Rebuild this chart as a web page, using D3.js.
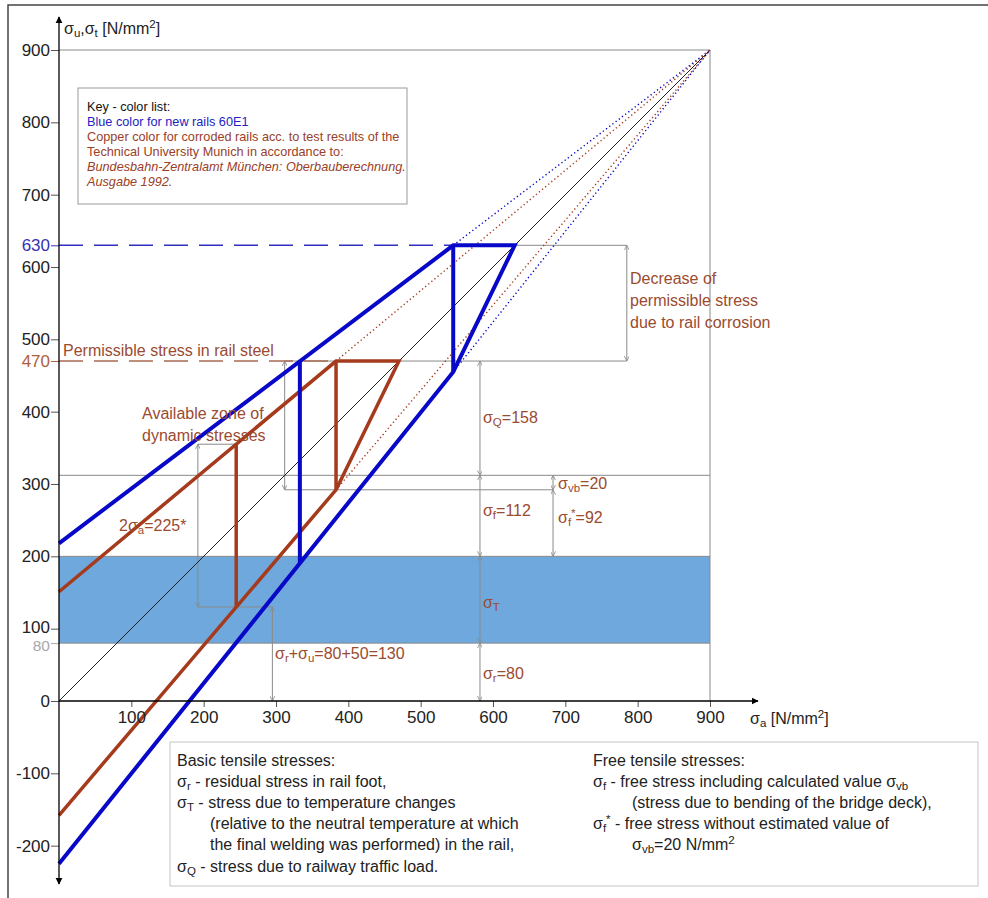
<!DOCTYPE html>
<html>
<head>
<meta charset="utf-8">
<script src="https://cdn.jsdelivr.net/npm/d3@7"></script>
<style>
  body { margin: 0; background: #fff; }
  svg { display: block; font-family: "Liberation Sans", Arial, sans-serif; }
</style>
</head>
<body>
<svg id="chart" width="988" height="898"></svg>
<script>
// ---- values (N/mm²) ----
const xTicks = [100, 200, 300, 400, 500, 600, 700, 800, 900];
const yTicks = [-200, -100, 0, 100, 200, 300, 400, 500, 600, 700, 800, 900];
const apex = [900, 900];

// new rails 60E1 (blue): upper limit line, top cut, lower limit line
const newRailOutline = [[0, 218], [545, 630], [630, 630], [545, 455], [0, -225]];
const newRailVerticals = [[[545, 630], [545, 455]], [[333, 470], [333, 191]]];
const newRailPermissible = 630;

// corroded rails (copper)
const corrodedOutline = [[0, 151], [383, 470], [470, 470], [383, 292], [0, -158]];
const corrodedVerticals = [[[383, 470], [383, 292]], [[245, 355], [245, 130]]];
const corrodedPermissible = 470;

// basic and free tensile stresses
const sigmaR = 80;        // residual stress
const sigmaT = 120;       // temperature changes (80 → 200)
const sigmaF = 112;       // free stress
const sigmaVb = 20;       // bridge deck bending
const sigmaFStar = 92;    // free stress without σvb
const sigmaQ = 158;       // traffic load
const twoSigmaA = 225;    // available range of the small cycle
const sigmaU = 50;

const svg = d3.select("#chart");
const x = d3.scaleLinear().domain([0, 900]).range([59, 710]);
const y = d3.scaleLinear().domain([0, 900]).range([701, 50]);

const brown = "#a53a1c", blue = "#0808c8", txtBrown = "#9a4b30", gray = "#8a8a8a";

// markers
const defs = svg.append("defs");
defs.append("marker").attr("id", "axArrow").attr("viewBox", "0 0 10 10")
  .attr("refX", 9).attr("refY", 5).attr("markerWidth", 7).attr("markerHeight", 9)
  .attr("markerUnits", "userSpaceOnUse").attr("orient", "auto-start-reverse")
  .append("path").attr("d", "M0,0 L10,5 L0,10 Z").attr("fill", "#000");
defs.append("marker").attr("id", "dim").attr("viewBox", "0 0 6 6")
  .attr("refX", 6).attr("refY", 3).attr("markerWidth", 5).attr("markerHeight", 5)
  .attr("markerUnits", "userSpaceOnUse").attr("orient", "auto-start-reverse")
  .append("path").attr("d", "M0,0 L6,3 L0,6").attr("fill", "none").attr("stroke", gray).attr("stroke-width", 1);

// rich text: _{sub} and ^{sup}
function rich(g, px, py, str, opts = {}) {
  const fs = opts.size || 16;
  const t = g.append("text").attr("x", px).attr("y", py)
    .attr("font-size", fs).attr("fill", opts.fill || "#222");
  if (opts.italic) t.attr("font-style", "italic");
  if (opts.anchor) t.attr("text-anchor", opts.anchor);
  const parts = str.split(/(_\{[^}]*\}|\^\{[^}]*\})/).filter(s => s.length);
  let shift = 0;
  parts.forEach(p => {
    let text = p, small = false, target = 0;
    if (p.startsWith("_{")) { text = p.slice(2, -1); target = fs * 0.2; small = true; }
    else if (p.startsWith("^{")) { text = p.slice(2, -1); target = -fs * 0.38; small = true; }
    const dy = target - shift; shift = target;
    const ts = t.append("tspan").text(text);
    if (dy) ts.attr("dy", dy);
    if (small) ts.attr("font-size", fs * 0.72);
  });
  return t;
}

const line = d3.line().x(d => x(d[0])).y(d => y(d[1]));

// figure frame (left and top)
svg.append("path").attr("d", "M8,898 L8,5 L988,5").attr("fill", "none")
  .attr("stroke", "#444").attr("stroke-width", 1.5);

// temperature band
svg.append("rect").attr("x", x(0)).attr("y", y(sigmaR + sigmaT))
  .attr("width", x(900) - x(0)).attr("height", y(sigmaR) - y(sigmaR + sigmaT))
  .attr("fill", "#6fa8dc");

// thin gray construction and dimension lines
const gGray = svg.append("g").attr("stroke", gray).attr("stroke-width", 1).attr("fill", "none");
const fTop = sigmaR + sigmaT + sigmaF;         // 312
const fStarTop = sigmaR + sigmaT + sigmaFStar; // 292
const plain = [
  [[0, 900], [900, 900]], [[900, 900], [900, 0]],
  [[0, sigmaR], [900, sigmaR]], [[0, sigmaR + sigmaT], [900, sigmaR + sigmaT]],
  [[0, fTop], [900, fTop]],
  [[630, newRailPermissible], [785, newRailPermissible]],
  [[312, corrodedPermissible], [785, corrodedPermissible]],
  [[312, fStarTop], [683, fStarTop]],
  [[192, 355], [245, 355]],
  [[192, sigmaR + sigmaU], [295, sigmaR + sigmaU]]
];
plain.forEach(s => gGray.append("path").attr("d", line(s)));
const dims = [
  [[785, newRailPermissible], [785, corrodedPermissible]],
  [[582, corrodedPermissible], [582, fTop]],
  [[582, fTop], [582, sigmaR + sigmaT]],
  [[582, sigmaR + sigmaT], [582, sigmaR]],
  [[582, sigmaR], [582, 0]],
  [[683, fTop], [683, fStarTop]],
  [[683, fStarTop], [683, sigmaR + sigmaT]],
  [[312, corrodedPermissible], [312, fStarTop]],
  [[192, 355], [192, sigmaR + sigmaU]],
  [[295, sigmaR + sigmaU], [295, 0]]
];
dims.forEach(s => gGray.append("path").attr("d", line(s))
  .attr("marker-start", "url(#dim)").attr("marker-end", "url(#dim)"));

// diagonal σu = σa
svg.append("path").attr("d", line([[0, 0], apex])).attr("stroke", "#222")
  .attr("stroke-width", 1).attr("fill", "none");

// dotted extensions to the apex
[[newRailOutline[1], blue], [newRailOutline[3], blue],
 [corrodedOutline[1], brown], [corrodedOutline[3], brown]].forEach(([p, c]) => {
  svg.append("path").attr("d", line([p, apex])).attr("stroke", c)
    .attr("stroke-width", 1.4).attr("stroke-dasharray", "1.3,2.7").attr("fill", "none");
});

// permissible stress levels
svg.append("path").attr("d", line([[0, newRailPermissible], [545, newRailPermissible]]))
  .attr("stroke", "#3030c0").attr("stroke-width", 1.5).attr("stroke-dasharray", "24,11").attr("fill", "none");
svg.append("path").attr("d", line([[0, corrodedPermissible], [383, corrodedPermissible]]))
  .attr("stroke", "#a86a50").attr("stroke-width", 1.5).attr("stroke-dasharray", "24,11").attr("fill", "none");

// thick diagram outlines
const gThick = svg.append("g").attr("fill", "none").attr("stroke-linejoin", "miter");
gThick.append("path").attr("d", line(corrodedOutline)).attr("stroke", brown).attr("stroke-width", 3.5);
corrodedVerticals.forEach(v => gThick.append("path").attr("d", line(v)).attr("stroke", brown).attr("stroke-width", 3.5));
gThick.append("path").attr("d", line(newRailOutline)).attr("stroke", blue).attr("stroke-width", 4);
newRailVerticals.forEach(v => gThick.append("path").attr("d", line(v)).attr("stroke", blue).attr("stroke-width", 4));

// axes
const fmt = d => String(d);
const gx = svg.append("g").attr("transform", `translate(0,${y(0)})`)
  .call(d3.axisBottom(x).tickValues(xTicks).tickFormat(fmt).tickSize(6).tickPadding(4));
const gy = svg.append("g").attr("transform", `translate(${x(0)},0)`)
  .call(d3.axisLeft(y).tickValues(yTicks).tickFormat(fmt).tickSize(8).tickPadding(1));
const gy2 = svg.append("g").attr("transform", `translate(${x(0)},0)`)
  .call(d3.axisLeft(y).tickValues([newRailPermissible, corrodedPermissible, sigmaR]).tickFormat(fmt).tickSize(8).tickPadding(1));
[gx, gy, gy2].forEach(g => {
  g.select(".domain").remove();
  g.selectAll("text").attr("font-size", 17).attr("font-family", "Liberation Sans, Arial, sans-serif").attr("fill", "#222");
  g.selectAll("line").attr("stroke", "#555");
});
const extraColors = { [newRailPermissible]: "#3434b4", [corrodedPermissible]: "#b0603a", [sigmaR]: "#a8a8a8" };
gy2.selectAll(".tick text").attr("fill", d => extraColors[d]);
gy2.selectAll(".tick line").attr("stroke", d => extraColors[d]);
// keep the small "80" label clear of "100"
gy2.selectAll(".tick text").filter(d => d === sigmaR).attr("font-size", 15.5).attr("dy", "0.5em");
gy.selectAll(".tick text").filter(d => d === 100).attr("dy", "0.2em");

svg.append("path").attr("d", `M${x(0)},${y(0)} L${x(0) + 699},${y(0)}`)
  .attr("stroke", "#000").attr("stroke-width", 1.3).attr("marker-end", "url(#axArrow)");
svg.append("path").attr("d", `M${x(0)},884 L${x(0)},17`)
  .attr("stroke", "#000").attr("stroke-width", 1.3)
  .attr("marker-start", "url(#axArrow)").attr("marker-end", "url(#axArrow)");

const gT = svg.append("g");
rich(gT, 64, 34, "σ_{u},σ_{t} [N/mm^{2}]", { size: 16 });
rich(gT, 750, 724, "σ_{a} [N/mm^{2}]", { size: 16 });

// key box
gT.append("rect").attr("x", 78).attr("y", 88).attr("width", 329).attr("height", 116)
  .attr("fill", "#fff").attr("stroke", "#9a9a9a");
rich(gT, 87, 111, "Key - color list:", { size: 12.7, fill: "#111" });
rich(gT, 87, 126, "Blue color for new rails 60E1", { size: 12.7, fill: "#2222c0" });
rich(gT, 87, 141, "Copper color for corroded rails acc. to test results of the", { size: 12.7, fill: "#9a4028" });
rich(gT, 87, 156, "Technical University Munich in accordance to:", { size: 12.7, fill: "#9a4028" });
rich(gT, 87, 171, "Bundesbahn-Zentralamt München: Oberbauberechnung.", { size: 12.7, fill: "#9a4028", italic: true });
rich(gT, 87, 186, "Ausgabe 1992.", { size: 12.7, fill: "#9a4028", italic: true });

// annotations inside the plot
const ann = (px, py, s) => rich(gT, px, py, s, { size: 16, fill: txtBrown });
ann(63, 356, "Permissible stress in rail steel");
ann(142, 419, "Available zone of");
ann(142, 441, "dynamic stresses");
ann(119, 531, `2σ_{a}=${twoSigmaA}*`);
ann(275, 659, `σ_{r}+σ_{u}=${sigmaR}+${sigmaU}=${sigmaR + sigmaU}`);
ann(630, 284, "Decrease of");
ann(630, 306, "permissible stress");
ann(630, 328, "due to rail corrosion");
ann(x(582) + 3, 423, `σ_{Q}=${sigmaQ}`);
ann(558, 489, `σ_{vb}=${sigmaVb}`);
ann(x(582) + 3, 516, `σ_{f}=${sigmaF}`);
ann(558, 523, `σ_{f}^{*}=${sigmaFStar}`);
ann(x(582) + 3, 608, "σ_{T}");
ann(x(582) + 3, 679, `σ_{r}=${sigmaR}`);

// explanation box
gT.append("rect").attr("x", 170).attr("y", 742).attr("width", 808).attr("height", 144)
  .attr("fill", "#fff").attr("stroke", "#c4c4c4");
const ex = (px, py, s) => rich(gT, px, py, s, { size: 16, fill: "#222" });
ex(177, 766, "Basic tensile stresses:");
ex(177, 787, "σ_{r} - residual stress in rail foot,");
ex(177, 808, "σ_{T} - stress due to temperature changes");
ex(210, 829, "(relative to the neutral temperature at which");
ex(210, 850, "the final welding was performed) in the rail,");
ex(177, 872, "σ_{Q} - stress due to railway traffic load.");
ex(593, 766, "Free tensile stresses:");
ex(593, 787, "σ_{f}  - free stress including calculated value σ_{vb}");
ex(632, 808, "(stress due to bending of the bridge deck),");
ex(593, 829, "σ_{f}^{*} - free stress without estimated value of");
ex(632, 850, `σ_{vb}=${sigmaVb} N/mm^{2}`);
</script>
</body>
</html>
